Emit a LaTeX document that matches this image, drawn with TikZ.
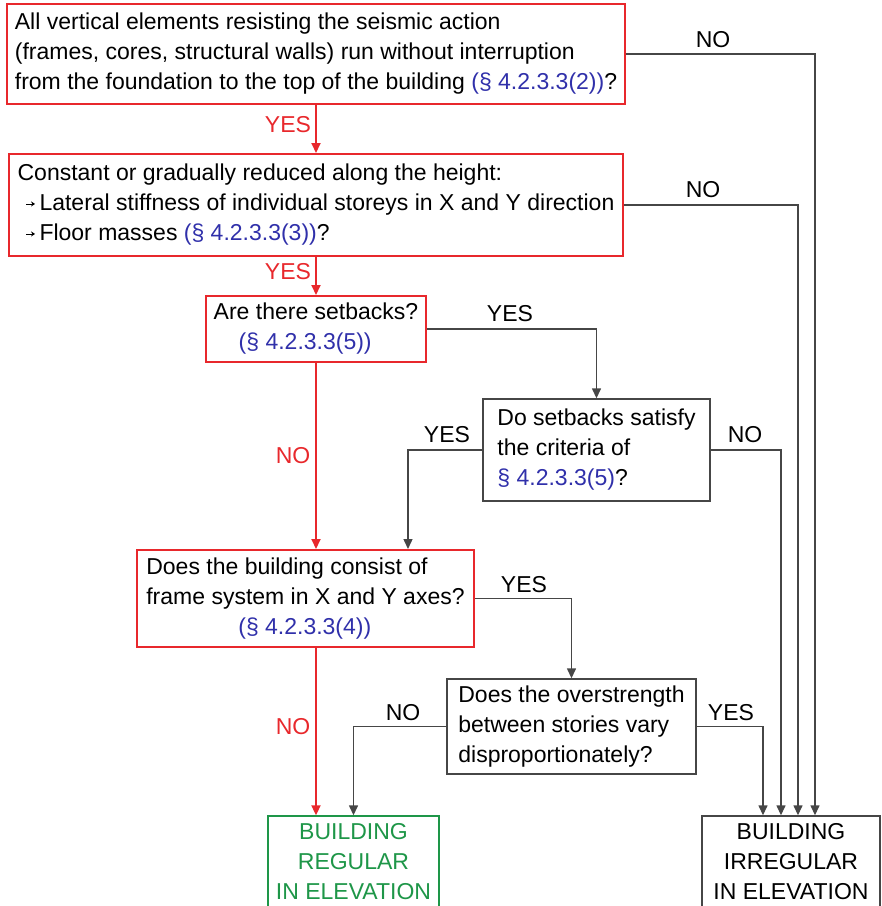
\documentclass[tikz,border=0pt]{standalone}
\usepackage{fontspec}
\setmainfont{Liberation Sans}
\usetikzlibrary{arrows.meta}
\definecolor{flowred}{RGB}{232,40,44}
\definecolor{refblue}{RGB}{48,48,170}
\definecolor{okgreen}{RGB}{30,150,72}
\definecolor{linegray}{RGB}{70,70,70}
\newcommand{\secref}[1]{\textcolor{refblue}{#1}}
% small inline arrow used as a list bullet
\newcommand{\bul}{\hspace*{8pt}\tikz[baseline=0pt]\draw[black, line width=0.9pt,-{Stealth[length=4pt,width=5pt]}] (0pt,7pt) -- (9pt,7pt);\hspace{4pt}}
\begin{document}
\begin{tikzpicture}[x=1pt,y=-1pt,
  every node/.style={font=\fontsize{23}{30}\selectfont, inner sep=0pt},
  redbox/.style={draw=flowred, line width=2pt, align=left},
  graybox/.style={draw=linegray, line width=1.4pt, align=left},
  endbox/.style={line width=1.4pt, align=center},
  redflow/.style={draw=flowred, line width=2pt, -{Triangle[length=10pt,width=9pt]}},
  grayflow/.style={draw=linegray, line width=1.4pt, -{Triangle[length=10pt,width=9pt]}},
  redlbl/.style={text=flowred},
  graylbl/.style={text=black}]
\useasboundingbox (0,0) rectangle (882,906);

% decision boxes
\node[redbox, minimum width=618pt, minimum height=100pt] (b1) at (316,54)
  {All vertical elements resisting the seismic action\\
   (frames, cores, structural walls) run without interruption\\
   from the foundation to the top of the building \secref{(§ 4.2.3.3(2))}?};
\node[redbox, minimum width=614pt, minimum height=102pt] (b2) at (316,205)
  {Constant or gradually reduced along the height:\\
   \bul Lateral stiffness of individual storeys in X and Y direction\\
   \bul Floor masses \secref{(§ 4.2.3.3(3))}?};
\node[redbox, minimum width=220pt, minimum height=66pt] (b3) at (316,329)
  {Are there setbacks?\\ \hspace*{25pt}\secref{(§ 4.2.3.3(5))}};
\node[graybox, minimum width=227pt, minimum height=102pt] (b4) at (596.5,450)
  {Do setbacks satisfy\\ the criteria of\\ \secref{§ 4.2.3.3(5)}?};
\node[redbox, minimum width=337pt, minimum height=97pt] (b5) at (305.5,598.5)
  {Does the building consist of\\ frame system in X and Y axes?\\
   \hspace*{92pt}\secref{(§ 4.2.3.3(4))}};
\node[graybox, minimum width=249pt, minimum height=95pt] (b6) at (571.5,726.5)
  {Does the overstrength\\ between stories vary\\ disproportionately?};

% outcomes
\node[endbox, draw=okgreen, text=okgreen, minimum width=171pt, minimum height=92pt] (reg) at (353.5,862)
  {BUILDING\\ REGULAR\\ IN ELEVATION};
\node[endbox, draw=linegray, text=black, minimum width=178pt, minimum height=92pt] (irr) at (791,862)
  {BUILDING\\ IRREGULAR\\ IN ELEVATION};

% main (red) path
\draw[redflow] (b1.south) -- (b2.north);
\draw[redflow] (b2.south) -- (b3.north);
\draw[redflow] (b3.south) -- (b3.south |- b5.north);
\draw[redflow] (b3.south |- b5.south) -- (b3.south |- reg.north);

% side branches
\draw[grayflow] (b1.east) -| ([xshift=24pt]irr.north);
\draw[grayflow] (b2.east) -| ([xshift=7pt]irr.north);
\draw[grayflow] (b3.east) -| (b4.north);
\draw[grayflow] (b4.west) -| ([xshift=102.5pt]b5.north);
\draw[grayflow] (b4.east) -| ([xshift=-10pt]irr.north);
\draw[grayflow] (b5.east) -| (b6.north);
\draw[grayflow] (b6.west) -| (reg.north);
\draw[grayflow] (b6.east) -| ([xshift=-28pt]irr.north);

% branch labels
\node[redlbl] (l1) at (288,125) {YES};
\node[redlbl] (l2) at (288,272) {YES};
\node[redlbl] (l3) at (293,456) {NO};
\node[redlbl] (l4) at (293,727) {NO};
\node[graylbl] (l5) at (713,40) {NO};
\node[graylbl] (l6) at (703,190) {NO};
\node[graylbl] (l7) at (510,314) {YES};
\node[graylbl] (l8) at (447,435) {YES};
\node[graylbl] (l9) at (745,435) {NO};
\node[graylbl] (l10) at (524,585) {YES};
\node[graylbl] (l11) at (403,713) {NO};
\node[graylbl] (l12) at (731,713) {YES};
\end{tikzpicture}
\end{document}
